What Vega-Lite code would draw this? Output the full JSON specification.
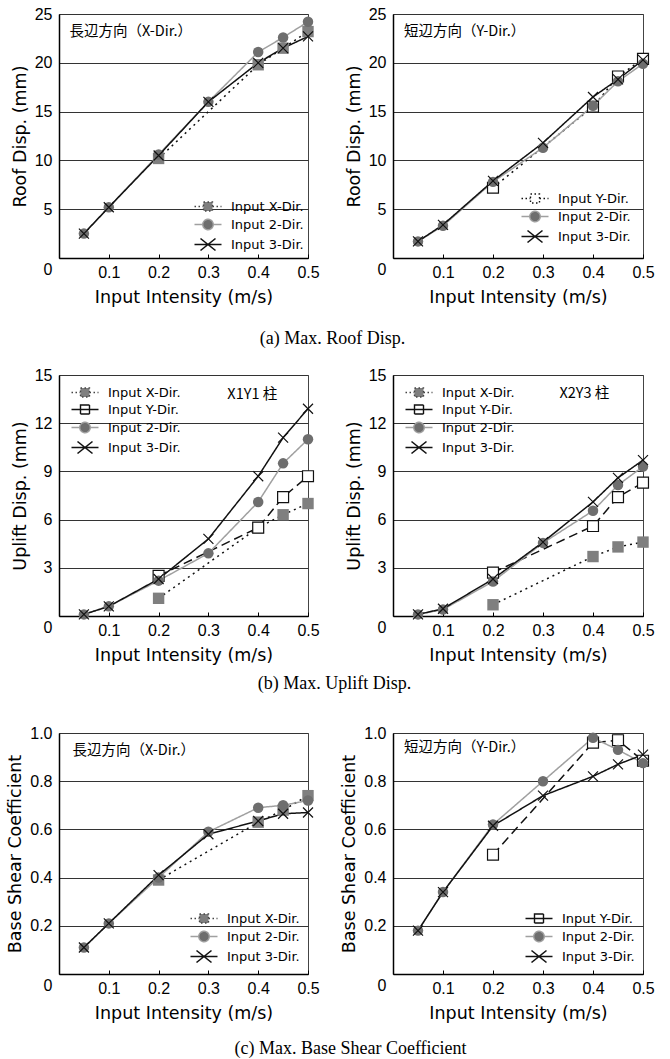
{
  "$schema": "https://vega.github.io/schema/vega-lite/v6.json",
  "padding": {"left": 6, "top": 5, "right": 5, "bottom": 2},
  "columns": 2,
  "spacing": {"row": 117, "column": 85},
  "bounds": "flush",
  "align": "each",
  "datasets": {
    "all": [
      {"panel": "a1", "series": "Input X-Dir.", "intensity": 0.2, "value": 10.2},
      {"panel": "a1", "series": "Input X-Dir.", "intensity": 0.4, "value": 19.8},
      {"panel": "a1", "series": "Input X-Dir.", "intensity": 0.45, "value": 21.5},
      {"panel": "a1", "series": "Input X-Dir.", "intensity": 0.5, "value": 23.2},
      {"panel": "a1", "series": "Input 2-Dir.", "intensity": 0.05, "value": 2.5},
      {"panel": "a1", "series": "Input 2-Dir.", "intensity": 0.1, "value": 5.2},
      {"panel": "a1", "series": "Input 2-Dir.", "intensity": 0.2, "value": 10.6},
      {"panel": "a1", "series": "Input 2-Dir.", "intensity": 0.3, "value": 16.0},
      {"panel": "a1", "series": "Input 2-Dir.", "intensity": 0.4, "value": 21.1},
      {"panel": "a1", "series": "Input 2-Dir.", "intensity": 0.45, "value": 22.6},
      {"panel": "a1", "series": "Input 2-Dir.", "intensity": 0.5, "value": 24.2},
      {"panel": "a1", "series": "Input 3-Dir.", "intensity": 0.05, "value": 2.5},
      {"panel": "a1", "series": "Input 3-Dir.", "intensity": 0.1, "value": 5.2},
      {"panel": "a1", "series": "Input 3-Dir.", "intensity": 0.2, "value": 10.5},
      {"panel": "a1", "series": "Input 3-Dir.", "intensity": 0.3, "value": 16.0},
      {"panel": "a1", "series": "Input 3-Dir.", "intensity": 0.4, "value": 20.0},
      {"panel": "a1", "series": "Input 3-Dir.", "intensity": 0.45, "value": 21.5},
      {"panel": "a1", "series": "Input 3-Dir.", "intensity": 0.5, "value": 22.7},

      {"panel": "a2", "series": "Input Y-Dir.", "intensity": 0.2, "value": 7.2},
      {"panel": "a2", "series": "Input Y-Dir.", "intensity": 0.4, "value": 15.5},
      {"panel": "a2", "series": "Input Y-Dir.", "intensity": 0.45, "value": 18.6},
      {"panel": "a2", "series": "Input Y-Dir.", "intensity": 0.5, "value": 20.4},
      {"panel": "a2", "series": "Input 2-Dir.", "intensity": 0.05, "value": 1.7},
      {"panel": "a2", "series": "Input 2-Dir.", "intensity": 0.1, "value": 3.3},
      {"panel": "a2", "series": "Input 2-Dir.", "intensity": 0.2, "value": 7.8},
      {"panel": "a2", "series": "Input 2-Dir.", "intensity": 0.3, "value": 11.3},
      {"panel": "a2", "series": "Input 2-Dir.", "intensity": 0.4, "value": 15.6},
      {"panel": "a2", "series": "Input 2-Dir.", "intensity": 0.45, "value": 18.1},
      {"panel": "a2", "series": "Input 2-Dir.", "intensity": 0.5, "value": 19.9},
      {"panel": "a2", "series": "Input 3-Dir.", "intensity": 0.05, "value": 1.7},
      {"panel": "a2", "series": "Input 3-Dir.", "intensity": 0.1, "value": 3.4},
      {"panel": "a2", "series": "Input 3-Dir.", "intensity": 0.2, "value": 7.9},
      {"panel": "a2", "series": "Input 3-Dir.", "intensity": 0.3, "value": 11.8},
      {"panel": "a2", "series": "Input 3-Dir.", "intensity": 0.4, "value": 16.5},
      {"panel": "a2", "series": "Input 3-Dir.", "intensity": 0.45, "value": 18.3},
      {"panel": "a2", "series": "Input 3-Dir.", "intensity": 0.5, "value": 20.3},

      {"panel": "b1", "series": "Input X-Dir.", "intensity": 0.2, "value": 1.1},
      {"panel": "b1", "series": "Input X-Dir.", "intensity": 0.4, "value": 5.5},
      {"panel": "b1", "series": "Input X-Dir.", "intensity": 0.45, "value": 6.3},
      {"panel": "b1", "series": "Input X-Dir.", "intensity": 0.5, "value": 7.0},
      {"panel": "b1", "series": "Input Y-Dir.", "intensity": 0.2, "value": 2.5},
      {"panel": "b1", "series": "Input Y-Dir.", "intensity": 0.4, "value": 5.5},
      {"panel": "b1", "series": "Input Y-Dir.", "intensity": 0.45, "value": 7.4},
      {"panel": "b1", "series": "Input Y-Dir.", "intensity": 0.5, "value": 8.7},
      {"panel": "b1", "series": "Input 2-Dir.", "intensity": 0.05, "value": 0.1},
      {"panel": "b1", "series": "Input 2-Dir.", "intensity": 0.1, "value": 0.6},
      {"panel": "b1", "series": "Input 2-Dir.", "intensity": 0.2, "value": 2.2},
      {"panel": "b1", "series": "Input 2-Dir.", "intensity": 0.3, "value": 3.9},
      {"panel": "b1", "series": "Input 2-Dir.", "intensity": 0.4, "value": 7.1},
      {"panel": "b1", "series": "Input 2-Dir.", "intensity": 0.45, "value": 9.5},
      {"panel": "b1", "series": "Input 2-Dir.", "intensity": 0.5, "value": 11.0},
      {"panel": "b1", "series": "Input 3-Dir.", "intensity": 0.05, "value": 0.1},
      {"panel": "b1", "series": "Input 3-Dir.", "intensity": 0.1, "value": 0.6},
      {"panel": "b1", "series": "Input 3-Dir.", "intensity": 0.2, "value": 2.3},
      {"panel": "b1", "series": "Input 3-Dir.", "intensity": 0.3, "value": 4.8},
      {"panel": "b1", "series": "Input 3-Dir.", "intensity": 0.4, "value": 8.7},
      {"panel": "b1", "series": "Input 3-Dir.", "intensity": 0.45, "value": 11.1},
      {"panel": "b1", "series": "Input 3-Dir.", "intensity": 0.5, "value": 12.9},

      {"panel": "b2", "series": "Input X-Dir.", "intensity": 0.2, "value": 0.7},
      {"panel": "b2", "series": "Input X-Dir.", "intensity": 0.4, "value": 3.7},
      {"panel": "b2", "series": "Input X-Dir.", "intensity": 0.45, "value": 4.3},
      {"panel": "b2", "series": "Input X-Dir.", "intensity": 0.5, "value": 4.6},
      {"panel": "b2", "series": "Input Y-Dir.", "intensity": 0.2, "value": 2.7},
      {"panel": "b2", "series": "Input Y-Dir.", "intensity": 0.4, "value": 5.6},
      {"panel": "b2", "series": "Input Y-Dir.", "intensity": 0.45, "value": 7.4},
      {"panel": "b2", "series": "Input Y-Dir.", "intensity": 0.5, "value": 8.3},
      {"panel": "b2", "series": "Input 2-Dir.", "intensity": 0.05, "value": 0.1},
      {"panel": "b2", "series": "Input 2-Dir.", "intensity": 0.1, "value": 0.4},
      {"panel": "b2", "series": "Input 2-Dir.", "intensity": 0.2, "value": 2.15},
      {"panel": "b2", "series": "Input 2-Dir.", "intensity": 0.3, "value": 4.55},
      {"panel": "b2", "series": "Input 2-Dir.", "intensity": 0.4, "value": 6.55},
      {"panel": "b2", "series": "Input 2-Dir.", "intensity": 0.45, "value": 8.15},
      {"panel": "b2", "series": "Input 2-Dir.", "intensity": 0.5, "value": 9.3},
      {"panel": "b2", "series": "Input 3-Dir.", "intensity": 0.05, "value": 0.1},
      {"panel": "b2", "series": "Input 3-Dir.", "intensity": 0.1, "value": 0.45},
      {"panel": "b2", "series": "Input 3-Dir.", "intensity": 0.2, "value": 2.3},
      {"panel": "b2", "series": "Input 3-Dir.", "intensity": 0.3, "value": 4.6},
      {"panel": "b2", "series": "Input 3-Dir.", "intensity": 0.4, "value": 7.1},
      {"panel": "b2", "series": "Input 3-Dir.", "intensity": 0.45, "value": 8.6},
      {"panel": "b2", "series": "Input 3-Dir.", "intensity": 0.5, "value": 9.7},

      {"panel": "c1", "series": "Input X-Dir.", "intensity": 0.2, "value": 0.39},
      {"panel": "c1", "series": "Input X-Dir.", "intensity": 0.4, "value": 0.63},
      {"panel": "c1", "series": "Input X-Dir.", "intensity": 0.45, "value": 0.68},
      {"panel": "c1", "series": "Input X-Dir.", "intensity": 0.5, "value": 0.74},
      {"panel": "c1", "series": "Input 2-Dir.", "intensity": 0.05, "value": 0.11},
      {"panel": "c1", "series": "Input 2-Dir.", "intensity": 0.1, "value": 0.21},
      {"panel": "c1", "series": "Input 2-Dir.", "intensity": 0.2, "value": 0.4},
      {"panel": "c1", "series": "Input 2-Dir.", "intensity": 0.3, "value": 0.59},
      {"panel": "c1", "series": "Input 2-Dir.", "intensity": 0.4, "value": 0.69},
      {"panel": "c1", "series": "Input 2-Dir.", "intensity": 0.45, "value": 0.7},
      {"panel": "c1", "series": "Input 2-Dir.", "intensity": 0.5, "value": 0.72},
      {"panel": "c1", "series": "Input 3-Dir.", "intensity": 0.05, "value": 0.11},
      {"panel": "c1", "series": "Input 3-Dir.", "intensity": 0.1, "value": 0.21},
      {"panel": "c1", "series": "Input 3-Dir.", "intensity": 0.2, "value": 0.41},
      {"panel": "c1", "series": "Input 3-Dir.", "intensity": 0.3, "value": 0.58},
      {"panel": "c1", "series": "Input 3-Dir.", "intensity": 0.4, "value": 0.635},
      {"panel": "c1", "series": "Input 3-Dir.", "intensity": 0.45, "value": 0.665},
      {"panel": "c1", "series": "Input 3-Dir.", "intensity": 0.5, "value": 0.67},

      {"panel": "c2", "series": "Input Y-Dir.", "intensity": 0.2, "value": 0.495},
      {"panel": "c2", "series": "Input Y-Dir.", "intensity": 0.4, "value": 0.96},
      {"panel": "c2", "series": "Input Y-Dir.", "intensity": 0.45, "value": 0.97},
      {"panel": "c2", "series": "Input Y-Dir.", "intensity": 0.5, "value": 0.885},
      {"panel": "c2", "series": "Input 2-Dir.", "intensity": 0.05, "value": 0.18},
      {"panel": "c2", "series": "Input 2-Dir.", "intensity": 0.1, "value": 0.34},
      {"panel": "c2", "series": "Input 2-Dir.", "intensity": 0.2, "value": 0.62},
      {"panel": "c2", "series": "Input 2-Dir.", "intensity": 0.3, "value": 0.8},
      {"panel": "c2", "series": "Input 2-Dir.", "intensity": 0.4, "value": 0.98},
      {"panel": "c2", "series": "Input 2-Dir.", "intensity": 0.45, "value": 0.93},
      {"panel": "c2", "series": "Input 2-Dir.", "intensity": 0.5, "value": 0.875},
      {"panel": "c2", "series": "Input 3-Dir.", "intensity": 0.05, "value": 0.18},
      {"panel": "c2", "series": "Input 3-Dir.", "intensity": 0.1, "value": 0.34},
      {"panel": "c2", "series": "Input 3-Dir.", "intensity": 0.2, "value": 0.615},
      {"panel": "c2", "series": "Input 3-Dir.", "intensity": 0.3, "value": 0.74},
      {"panel": "c2", "series": "Input 3-Dir.", "intensity": 0.4, "value": 0.82},
      {"panel": "c2", "series": "Input 3-Dir.", "intensity": 0.45, "value": 0.87},
      {"panel": "c2", "series": "Input 3-Dir.", "intensity": 0.5, "value": 0.91}
    ]
  },
  "concat": [
    {
      "width": 249, "height": 244,
      "title": {"text": "(a) Max. Roof Disp.", "orient": "bottom", "frame": "group", "anchor": "middle", "dx": 149, "offset": 24},
      "data": {"name": "all"},
      "encoding": {
        "x": {"field": "intensity", "type": "quantitative", "scale": {"domain": [0, 0.5], "nice": false}, "axis": {"title": "Input Intensity (m/s)", "values": [0.1, 0.2, 0.3, 0.4, 0.5], "format": ".1f"}},
        "y": {"field": "value", "type": "quantitative", "scale": {"domain": [0, 25], "nice": false}, "axis": {"title": "Roof Disp. (mm)", "values": [0, 5, 10, 15, 20, 25], "labelOffset": {"condition": {"test": "datum.value === 0", "value": 11}, "value": 0}}}
      },
      "resolve": {"scale": {"color": "independent", "shape": "independent", "fill": "independent", "stroke": "independent", "strokeDash": "independent", "strokeWidth": "independent", "size": "independent"}},
      "layer": [
        {
          "transform": [{"filter": "datum.panel === 'a1'"}],
          "mark": {"type": "line"},
          "encoding": {
            "color": {"field": "series", "type": "nominal", "scale": {"domain": ["Input X-Dir.", "Input Y-Dir.", "Input 2-Dir.", "Input 3-Dir."], "range": ["#111111", "#111111", "#a0a0a0", "#111111"]}, "legend": null},
            "strokeDash": {"field": "series", "type": "nominal", "scale": {"domain": ["Input X-Dir.", "Input Y-Dir.", "Input 2-Dir.", "Input 3-Dir."], "range": [[2, 4], [9, 5], [1, 0], [1, 0]]}, "legend": null},
            "strokeWidth": {"field": "series", "type": "nominal", "scale": {"domain": ["Input X-Dir.", "Input Y-Dir.", "Input 2-Dir.", "Input 3-Dir."], "range": [1.5, 1.5, 2, 1.5]}, "legend": null}
          }
        },
        {
          "transform": [{"filter": "datum.panel === 'a1'"}],
          "mark": {"type": "point", "opacity": 1, "strokeWidth": 1.2},
          "encoding": {
            "shape": {"field": "series", "type": "nominal", "scale": {"domain": ["Input X-Dir.", "Input Y-Dir.", "Input 2-Dir.", "Input 3-Dir."], "range": ["square", "square", "circle", "M-1,-1L1,1M-1,1L1,-1"]}, "legend": null},
            "fill": {"field": "series", "type": "nominal", "scale": {"domain": ["Input X-Dir.", "Input Y-Dir.", "Input 2-Dir.", "Input 3-Dir."], "range": ["#7f7f7f", "#ffffff", "#6e6e6e", "transparent"]}, "legend": null},
            "stroke": {"field": "series", "type": "nominal", "scale": {"domain": ["Input X-Dir.", "Input Y-Dir.", "Input 2-Dir.", "Input 3-Dir."], "range": ["transparent", "#111111", "transparent", "#111111"]}, "legend": null},
            "size": {"field": "series", "type": "nominal", "scale": {"domain": ["Input X-Dir.", "Input Y-Dir.", "Input 2-Dir.", "Input 3-Dir."], "range": [130, 100, 120, 150]}, "legend": null}
          }
        },
        {
          "transform": [{"filter": "false"}],
          "mark": {"type": "point", "opacity": 1, "size": 100},
          "encoding": {
            "shape": {"field": "series", "type": "nominal", "scale": {"domain": ["Input X-Dir.", "Input Y-Dir.", "Input 2-Dir.", "Input 3-Dir."], "range": ["M-1,0H0.8M2.6,0H4.4M0.8,-0.9H2.6V0.9H0.8Z", "M-1,0H4.4M0.8,-0.9H2.6V0.9H0.8Z", "M-1,0H0.65M2.75,0H4.4M2.75,0A1.05,1.05,0,1,1,0.65,0A1.05,1.05,0,1,1,2.75,0Z", "M-1,0H4.4M0.2,-1.2L3.2,1.2M0.2,1.2L3.2,-1.2"]}, "legend": {"title": null, "orient": "bottom-right", "offset": 4, "values": ["Input X-Dir.", "Input 2-Dir.", "Input 3-Dir."]}},
            "fill": {"field": "series", "type": "nominal", "scale": {"domain": ["Input X-Dir.", "Input Y-Dir.", "Input 2-Dir.", "Input 3-Dir."], "range": ["#7f7f7f", "#ffffff", "#6e6e6e", "transparent"]}, "legend": {"title": null, "orient": "bottom-right", "offset": 4, "values": ["Input X-Dir.", "Input 2-Dir.", "Input 3-Dir."]}},
            "stroke": {"field": "series", "type": "nominal", "scale": {"domain": ["Input X-Dir.", "Input Y-Dir.", "Input 2-Dir.", "Input 3-Dir."], "range": ["#444444", "#111111", "#a0a0a0", "#111111"]}, "legend": {"title": null, "orient": "bottom-right", "offset": 4, "values": ["Input X-Dir.", "Input 2-Dir.", "Input 3-Dir."]}},
            "strokeDash": {"field": "series", "type": "nominal", "scale": {"domain": ["Input X-Dir.", "Input Y-Dir.", "Input 2-Dir.", "Input 3-Dir."], "range": [[1.5, 2.5], [1, 0], [1, 0], [1, 0]]}, "legend": {"title": null, "orient": "bottom-right", "offset": 4, "values": ["Input X-Dir.", "Input 2-Dir.", "Input 3-Dir."]}},
            "strokeWidth": {"field": "series", "type": "nominal", "scale": {"domain": ["Input X-Dir.", "Input Y-Dir.", "Input 2-Dir.", "Input 3-Dir."], "range": [1.4, 1.4, 1.8, 1.4]}, "legend": {"title": null, "orient": "bottom-right", "offset": 4, "values": ["Input X-Dir.", "Input 2-Dir.", "Input 3-Dir."]}}
          }
        },
        {
          "transform": [{"filter": "datum.panel === 'a1' && datum.series === 'Input 2-Dir.' && datum.intensity === 0.05"}],
          "mark": {"type": "text", "align": "left", "baseline": "middle", "font": "Noto Sans CJK JP", "fontSize": 14.5, "fill": "#000000"},
          "encoding": {"x": {"datum": 0.021}, "y": {"datum": 23.2}, "text": {"value": "長辺方向（X-Dir.）"}}
        }
      ]
    },
    {
      "width": 250, "height": 244,
      "data": {"name": "all"},
      "encoding": {
        "x": {"field": "intensity", "type": "quantitative", "scale": {"domain": [0, 0.5], "nice": false}, "axis": {"title": "Input Intensity (m/s)", "values": [0.1, 0.2, 0.3, 0.4, 0.5], "format": ".1f"}},
        "y": {"field": "value", "type": "quantitative", "scale": {"domain": [0, 25], "nice": false}, "axis": {"title": "Roof Disp. (mm)", "values": [0, 5, 10, 15, 20, 25], "labelOffset": {"condition": {"test": "datum.value === 0", "value": 11}, "value": 0}}}
      },
      "resolve": {"scale": {"color": "independent", "shape": "independent", "fill": "independent", "stroke": "independent", "strokeDash": "independent", "strokeWidth": "independent", "size": "independent"}},
      "layer": [
        {
          "transform": [{"filter": "datum.panel === 'a2'"}],
          "mark": {"type": "line"},
          "encoding": {
            "color": {"field": "series", "type": "nominal", "scale": {"domain": ["Input X-Dir.", "Input Y-Dir.", "Input 2-Dir.", "Input 3-Dir."], "range": ["#111111", "#111111", "#a0a0a0", "#111111"]}, "legend": null},
            "strokeDash": {"field": "series", "type": "nominal", "scale": {"domain": ["Input X-Dir.", "Input Y-Dir.", "Input 2-Dir.", "Input 3-Dir."], "range": [[2, 4], [2, 4], [1, 0], [1, 0]]}, "legend": null},
            "strokeWidth": {"field": "series", "type": "nominal", "scale": {"domain": ["Input X-Dir.", "Input Y-Dir.", "Input 2-Dir.", "Input 3-Dir."], "range": [1.5, 1.5, 2, 1.5]}, "legend": null}
          }
        },
        {
          "transform": [{"filter": "datum.panel === 'a2'"}],
          "mark": {"type": "point", "opacity": 1, "strokeWidth": 1.2},
          "encoding": {
            "shape": {"field": "series", "type": "nominal", "scale": {"domain": ["Input X-Dir.", "Input Y-Dir.", "Input 2-Dir.", "Input 3-Dir."], "range": ["square", "square", "circle", "M-1,-1L1,1M-1,1L1,-1"]}, "legend": null},
            "fill": {"field": "series", "type": "nominal", "scale": {"domain": ["Input X-Dir.", "Input Y-Dir.", "Input 2-Dir.", "Input 3-Dir."], "range": ["#7f7f7f", "#ffffff", "#6e6e6e", "transparent"]}, "legend": null},
            "stroke": {"field": "series", "type": "nominal", "scale": {"domain": ["Input X-Dir.", "Input Y-Dir.", "Input 2-Dir.", "Input 3-Dir."], "range": ["transparent", "#111111", "transparent", "#111111"]}, "legend": null},
            "size": {"field": "series", "type": "nominal", "scale": {"domain": ["Input X-Dir.", "Input Y-Dir.", "Input 2-Dir.", "Input 3-Dir."], "range": [130, 100, 120, 150]}, "legend": null}
          }
        },
        {
          "transform": [{"filter": "false"}],
          "mark": {"type": "point", "opacity": 1, "size": 100},
          "encoding": {
            "shape": {"field": "series", "type": "nominal", "scale": {"domain": ["Input X-Dir.", "Input Y-Dir.", "Input 2-Dir.", "Input 3-Dir."], "range": ["M-1,0H0.8M2.6,0H4.4M0.8,-0.9H2.6V0.9H0.8Z", "M-1,0H0.8M2.6,0H4.4M0.8,-0.9H2.6V0.9H0.8Z", "M-1,0H0.65M2.75,0H4.4M2.75,0A1.05,1.05,0,1,1,0.65,0A1.05,1.05,0,1,1,2.75,0Z", "M-1,0H4.4M0.2,-1.2L3.2,1.2M0.2,1.2L3.2,-1.2"]}, "legend": {"title": null, "orient": "bottom-right", "offset": 12, "values": ["Input Y-Dir.", "Input 2-Dir.", "Input 3-Dir."]}},
            "fill": {"field": "series", "type": "nominal", "scale": {"domain": ["Input X-Dir.", "Input Y-Dir.", "Input 2-Dir.", "Input 3-Dir."], "range": ["#7f7f7f", "#ffffff", "#6e6e6e", "transparent"]}, "legend": {"title": null, "orient": "bottom-right", "offset": 12, "values": ["Input Y-Dir.", "Input 2-Dir.", "Input 3-Dir."]}},
            "stroke": {"field": "series", "type": "nominal", "scale": {"domain": ["Input X-Dir.", "Input Y-Dir.", "Input 2-Dir.", "Input 3-Dir."], "range": ["#444444", "#111111", "#a0a0a0", "#111111"]}, "legend": {"title": null, "orient": "bottom-right", "offset": 12, "values": ["Input Y-Dir.", "Input 2-Dir.", "Input 3-Dir."]}},
            "strokeDash": {"field": "series", "type": "nominal", "scale": {"domain": ["Input X-Dir.", "Input Y-Dir.", "Input 2-Dir.", "Input 3-Dir."], "range": [[1.5, 2.5], [1.5, 2.5], [1, 0], [1, 0]]}, "legend": {"title": null, "orient": "bottom-right", "offset": 12, "values": ["Input Y-Dir.", "Input 2-Dir.", "Input 3-Dir."]}},
            "strokeWidth": {"field": "series", "type": "nominal", "scale": {"domain": ["Input X-Dir.", "Input Y-Dir.", "Input 2-Dir.", "Input 3-Dir."], "range": [1.4, 1.4, 1.8, 1.4]}, "legend": {"title": null, "orient": "bottom-right", "offset": 12, "values": ["Input Y-Dir.", "Input 2-Dir.", "Input 3-Dir."]}}
          }
        },
        {
          "transform": [{"filter": "datum.panel === 'a2' && datum.series === 'Input 2-Dir.' && datum.intensity === 0.05"}],
          "mark": {"type": "text", "align": "left", "baseline": "middle", "font": "Noto Sans CJK JP", "fontSize": 14.5, "fill": "#000000"},
          "encoding": {"x": {"datum": 0.022}, "y": {"datum": 23.2}, "text": {"value": "短辺方向（Y-Dir.）"}}
        }
      ]
    },
    {
      "width": 249, "height": 241,
      "title": {"text": "(b) Max. Uplift Disp.", "orient": "bottom", "frame": "group", "anchor": "middle", "dx": 151, "offset": 11},
      "data": {"name": "all"},
      "encoding": {
        "x": {"field": "intensity", "type": "quantitative", "scale": {"domain": [0, 0.5], "nice": false}, "axis": {"title": "Input Intensity (m/s)", "values": [0.1, 0.2, 0.3, 0.4, 0.5], "format": ".1f"}},
        "y": {"field": "value", "type": "quantitative", "scale": {"domain": [0, 15], "nice": false}, "axis": {"title": "Uplift Disp. (mm)", "values": [0, 3, 6, 9, 12, 15], "labelOffset": {"condition": {"test": "datum.value === 0", "value": 11}, "value": 0}}}
      },
      "resolve": {"scale": {"color": "independent", "shape": "independent", "fill": "independent", "stroke": "independent", "strokeDash": "independent", "strokeWidth": "independent", "size": "independent"}},
      "layer": [
        {
          "transform": [{"filter": "datum.panel === 'b1'"}],
          "mark": {"type": "line"},
          "encoding": {
            "color": {"field": "series", "type": "nominal", "scale": {"domain": ["Input X-Dir.", "Input Y-Dir.", "Input 2-Dir.", "Input 3-Dir."], "range": ["#111111", "#111111", "#a0a0a0", "#111111"]}, "legend": null},
            "strokeDash": {"field": "series", "type": "nominal", "scale": {"domain": ["Input X-Dir.", "Input Y-Dir.", "Input 2-Dir.", "Input 3-Dir."], "range": [[2, 4], [9, 5], [1, 0], [1, 0]]}, "legend": null},
            "strokeWidth": {"field": "series", "type": "nominal", "scale": {"domain": ["Input X-Dir.", "Input Y-Dir.", "Input 2-Dir.", "Input 3-Dir."], "range": [1.5, 1.5, 2, 1.5]}, "legend": null}
          }
        },
        {
          "transform": [{"filter": "datum.panel === 'b1'"}],
          "mark": {"type": "point", "opacity": 1, "strokeWidth": 1.2},
          "encoding": {
            "shape": {"field": "series", "type": "nominal", "scale": {"domain": ["Input X-Dir.", "Input Y-Dir.", "Input 2-Dir.", "Input 3-Dir."], "range": ["square", "square", "circle", "M-1,-1L1,1M-1,1L1,-1"]}, "legend": null},
            "fill": {"field": "series", "type": "nominal", "scale": {"domain": ["Input X-Dir.", "Input Y-Dir.", "Input 2-Dir.", "Input 3-Dir."], "range": ["#7f7f7f", "#ffffff", "#6e6e6e", "transparent"]}, "legend": null},
            "stroke": {"field": "series", "type": "nominal", "scale": {"domain": ["Input X-Dir.", "Input Y-Dir.", "Input 2-Dir.", "Input 3-Dir."], "range": ["transparent", "#111111", "transparent", "#111111"]}, "legend": null},
            "size": {"field": "series", "type": "nominal", "scale": {"domain": ["Input X-Dir.", "Input Y-Dir.", "Input 2-Dir.", "Input 3-Dir."], "range": [130, 100, 120, 150]}, "legend": null}
          }
        },
        {
          "transform": [{"filter": "false"}],
          "mark": {"type": "point", "opacity": 1, "size": 100},
          "encoding": {
            "shape": {"field": "series", "type": "nominal", "scale": {"domain": ["Input X-Dir.", "Input Y-Dir.", "Input 2-Dir.", "Input 3-Dir."], "range": ["M-1,0H0.8M2.6,0H4.4M0.8,-0.9H2.6V0.9H0.8Z", "M-1,0H4.4M0.8,-0.9H2.6V0.9H0.8Z", "M-1,0H0.65M2.75,0H4.4M2.75,0A1.05,1.05,0,1,1,0.65,0A1.05,1.05,0,1,1,2.75,0Z", "M-1,0H4.4M0.2,-1.2L3.2,1.2M0.2,1.2L3.2,-1.2"]}, "legend": {"title": null, "orient": "top-left", "offset": 11}},
            "fill": {"field": "series", "type": "nominal", "scale": {"domain": ["Input X-Dir.", "Input Y-Dir.", "Input 2-Dir.", "Input 3-Dir."], "range": ["#7f7f7f", "#ffffff", "#6e6e6e", "transparent"]}, "legend": {"title": null, "orient": "top-left", "offset": 11}},
            "stroke": {"field": "series", "type": "nominal", "scale": {"domain": ["Input X-Dir.", "Input Y-Dir.", "Input 2-Dir.", "Input 3-Dir."], "range": ["#444444", "#111111", "#a0a0a0", "#111111"]}, "legend": {"title": null, "orient": "top-left", "offset": 11}},
            "strokeDash": {"field": "series", "type": "nominal", "scale": {"domain": ["Input X-Dir.", "Input Y-Dir.", "Input 2-Dir.", "Input 3-Dir."], "range": [[1.5, 2.5], [1, 0], [1, 0], [1, 0]]}, "legend": {"title": null, "orient": "top-left", "offset": 11}},
            "strokeWidth": {"field": "series", "type": "nominal", "scale": {"domain": ["Input X-Dir.", "Input Y-Dir.", "Input 2-Dir.", "Input 3-Dir."], "range": [1.4, 1.4, 1.8, 1.4]}, "legend": {"title": null, "orient": "top-left", "offset": 11}}
          }
        },
        {
          "transform": [{"filter": "datum.panel === 'b1' && datum.series === 'Input 2-Dir.' && datum.intensity === 0.05"}],
          "mark": {"type": "text", "align": "left", "baseline": "middle", "font": "Noto Sans CJK JP", "fontSize": 14.5, "fill": "#000000"},
          "encoding": {"x": {"datum": 0.338}, "y": {"datum": 13.75}, "text": {"value": "X1Y1 柱"}}
        }
      ]
    },
    {
      "width": 250, "height": 241,
      "data": {"name": "all"},
      "encoding": {
        "x": {"field": "intensity", "type": "quantitative", "scale": {"domain": [0, 0.5], "nice": false}, "axis": {"title": "Input Intensity (m/s)", "values": [0.1, 0.2, 0.3, 0.4, 0.5], "format": ".1f"}},
        "y": {"field": "value", "type": "quantitative", "scale": {"domain": [0, 15], "nice": false}, "axis": {"title": "Uplift Disp. (mm)", "values": [0, 3, 6, 9, 12, 15], "labelOffset": {"condition": {"test": "datum.value === 0", "value": 11}, "value": 0}}}
      },
      "resolve": {"scale": {"color": "independent", "shape": "independent", "fill": "independent", "stroke": "independent", "strokeDash": "independent", "strokeWidth": "independent", "size": "independent"}},
      "layer": [
        {
          "transform": [{"filter": "datum.panel === 'b2'"}],
          "mark": {"type": "line"},
          "encoding": {
            "color": {"field": "series", "type": "nominal", "scale": {"domain": ["Input X-Dir.", "Input Y-Dir.", "Input 2-Dir.", "Input 3-Dir."], "range": ["#111111", "#111111", "#a0a0a0", "#111111"]}, "legend": null},
            "strokeDash": {"field": "series", "type": "nominal", "scale": {"domain": ["Input X-Dir.", "Input Y-Dir.", "Input 2-Dir.", "Input 3-Dir."], "range": [[2, 4], [9, 5], [1, 0], [1, 0]]}, "legend": null},
            "strokeWidth": {"field": "series", "type": "nominal", "scale": {"domain": ["Input X-Dir.", "Input Y-Dir.", "Input 2-Dir.", "Input 3-Dir."], "range": [1.5, 1.5, 2, 1.5]}, "legend": null}
          }
        },
        {
          "transform": [{"filter": "datum.panel === 'b2'"}],
          "mark": {"type": "point", "opacity": 1, "strokeWidth": 1.2},
          "encoding": {
            "shape": {"field": "series", "type": "nominal", "scale": {"domain": ["Input X-Dir.", "Input Y-Dir.", "Input 2-Dir.", "Input 3-Dir."], "range": ["square", "square", "circle", "M-1,-1L1,1M-1,1L1,-1"]}, "legend": null},
            "fill": {"field": "series", "type": "nominal", "scale": {"domain": ["Input X-Dir.", "Input Y-Dir.", "Input 2-Dir.", "Input 3-Dir."], "range": ["#7f7f7f", "#ffffff", "#6e6e6e", "transparent"]}, "legend": null},
            "stroke": {"field": "series", "type": "nominal", "scale": {"domain": ["Input X-Dir.", "Input Y-Dir.", "Input 2-Dir.", "Input 3-Dir."], "range": ["transparent", "#111111", "transparent", "#111111"]}, "legend": null},
            "size": {"field": "series", "type": "nominal", "scale": {"domain": ["Input X-Dir.", "Input Y-Dir.", "Input 2-Dir.", "Input 3-Dir."], "range": [130, 100, 120, 150]}, "legend": null}
          }
        },
        {
          "transform": [{"filter": "false"}],
          "mark": {"type": "point", "opacity": 1, "size": 100},
          "encoding": {
            "shape": {"field": "series", "type": "nominal", "scale": {"domain": ["Input X-Dir.", "Input Y-Dir.", "Input 2-Dir.", "Input 3-Dir."], "range": ["M-1,0H0.8M2.6,0H4.4M0.8,-0.9H2.6V0.9H0.8Z", "M-1,0H4.4M0.8,-0.9H2.6V0.9H0.8Z", "M-1,0H0.65M2.75,0H4.4M2.75,0A1.05,1.05,0,1,1,0.65,0A1.05,1.05,0,1,1,2.75,0Z", "M-1,0H4.4M0.2,-1.2L3.2,1.2M0.2,1.2L3.2,-1.2"]}, "legend": {"title": null, "orient": "top-left", "offset": 11}},
            "fill": {"field": "series", "type": "nominal", "scale": {"domain": ["Input X-Dir.", "Input Y-Dir.", "Input 2-Dir.", "Input 3-Dir."], "range": ["#7f7f7f", "#ffffff", "#6e6e6e", "transparent"]}, "legend": {"title": null, "orient": "top-left", "offset": 11}},
            "stroke": {"field": "series", "type": "nominal", "scale": {"domain": ["Input X-Dir.", "Input Y-Dir.", "Input 2-Dir.", "Input 3-Dir."], "range": ["#444444", "#111111", "#a0a0a0", "#111111"]}, "legend": {"title": null, "orient": "top-left", "offset": 11}},
            "strokeDash": {"field": "series", "type": "nominal", "scale": {"domain": ["Input X-Dir.", "Input Y-Dir.", "Input 2-Dir.", "Input 3-Dir."], "range": [[1.5, 2.5], [1, 0], [1, 0], [1, 0]]}, "legend": {"title": null, "orient": "top-left", "offset": 11}},
            "strokeWidth": {"field": "series", "type": "nominal", "scale": {"domain": ["Input X-Dir.", "Input Y-Dir.", "Input 2-Dir.", "Input 3-Dir."], "range": [1.4, 1.4, 1.8, 1.4]}, "legend": {"title": null, "orient": "top-left", "offset": 11}}
          }
        },
        {
          "transform": [{"filter": "datum.panel === 'b2' && datum.series === 'Input 2-Dir.' && datum.intensity === 0.05"}],
          "mark": {"type": "text", "align": "left", "baseline": "middle", "font": "Noto Sans CJK JP", "fontSize": 14.5, "fill": "#000000"},
          "encoding": {"x": {"datum": 0.333}, "y": {"datum": 13.8}, "text": {"value": "X2Y3 柱"}}
        }
      ]
    },
    {
      "width": 249, "height": 241,
      "title": {"text": "(c) Max. Base Shear Coefficient", "orient": "bottom", "frame": "group", "anchor": "middle", "dx": 167, "offset": 18},
      "data": {"name": "all"},
      "encoding": {
        "x": {"field": "intensity", "type": "quantitative", "scale": {"domain": [0, 0.5], "nice": false}, "axis": {"title": "Input Intensity (m/s)", "values": [0.1, 0.2, 0.3, 0.4, 0.5], "format": ".1f"}},
        "y": {"field": "value", "type": "quantitative", "scale": {"domain": [0, 1], "nice": false}, "axis": {"title": "Base Shear Coefficient", "values": [0, 0.2, 0.4, 0.6, 0.8, 1], "labelExpr": "datum.value === 0 ? '0' : format(datum.value, '.1f')", "labelOffset": {"condition": {"test": "datum.value === 0", "value": 11}, "value": 0}}}
      },
      "resolve": {"scale": {"color": "independent", "shape": "independent", "fill": "independent", "stroke": "independent", "strokeDash": "independent", "strokeWidth": "independent", "size": "independent"}},
      "layer": [
        {
          "transform": [{"filter": "datum.panel === 'c1'"}],
          "mark": {"type": "line"},
          "encoding": {
            "color": {"field": "series", "type": "nominal", "scale": {"domain": ["Input X-Dir.", "Input Y-Dir.", "Input 2-Dir.", "Input 3-Dir."], "range": ["#111111", "#111111", "#a0a0a0", "#111111"]}, "legend": null},
            "strokeDash": {"field": "series", "type": "nominal", "scale": {"domain": ["Input X-Dir.", "Input Y-Dir.", "Input 2-Dir.", "Input 3-Dir."], "range": [[2, 4], [9, 5], [1, 0], [1, 0]]}, "legend": null},
            "strokeWidth": {"field": "series", "type": "nominal", "scale": {"domain": ["Input X-Dir.", "Input Y-Dir.", "Input 2-Dir.", "Input 3-Dir."], "range": [1.5, 1.5, 2, 1.5]}, "legend": null}
          }
        },
        {
          "transform": [{"filter": "datum.panel === 'c1'"}],
          "mark": {"type": "point", "opacity": 1, "strokeWidth": 1.2},
          "encoding": {
            "shape": {"field": "series", "type": "nominal", "scale": {"domain": ["Input X-Dir.", "Input Y-Dir.", "Input 2-Dir.", "Input 3-Dir."], "range": ["square", "square", "circle", "M-1,-1L1,1M-1,1L1,-1"]}, "legend": null},
            "fill": {"field": "series", "type": "nominal", "scale": {"domain": ["Input X-Dir.", "Input Y-Dir.", "Input 2-Dir.", "Input 3-Dir."], "range": ["#7f7f7f", "#ffffff", "#6e6e6e", "transparent"]}, "legend": null},
            "stroke": {"field": "series", "type": "nominal", "scale": {"domain": ["Input X-Dir.", "Input Y-Dir.", "Input 2-Dir.", "Input 3-Dir."], "range": ["transparent", "#111111", "transparent", "#111111"]}, "legend": null},
            "size": {"field": "series", "type": "nominal", "scale": {"domain": ["Input X-Dir.", "Input Y-Dir.", "Input 2-Dir.", "Input 3-Dir."], "range": [130, 100, 120, 150]}, "legend": null}
          }
        },
        {
          "transform": [{"filter": "false"}],
          "mark": {"type": "point", "opacity": 1, "size": 100},
          "encoding": {
            "shape": {"field": "series", "type": "nominal", "scale": {"domain": ["Input X-Dir.", "Input Y-Dir.", "Input 2-Dir.", "Input 3-Dir."], "range": ["M-1,0H0.8M2.6,0H4.4M0.8,-0.9H2.6V0.9H0.8Z", "M-1,0H4.4M0.8,-0.9H2.6V0.9H0.8Z", "M-1,0H0.65M2.75,0H4.4M2.75,0A1.05,1.05,0,1,1,0.65,0A1.05,1.05,0,1,1,2.75,0Z", "M-1,0H4.4M0.2,-1.2L3.2,1.2M0.2,1.2L3.2,-1.2"]}, "legend": {"title": null, "orient": "bottom-right", "offset": 8, "values": ["Input X-Dir.", "Input 2-Dir.", "Input 3-Dir."]}},
            "fill": {"field": "series", "type": "nominal", "scale": {"domain": ["Input X-Dir.", "Input Y-Dir.", "Input 2-Dir.", "Input 3-Dir."], "range": ["#7f7f7f", "#ffffff", "#6e6e6e", "transparent"]}, "legend": {"title": null, "orient": "bottom-right", "offset": 8, "values": ["Input X-Dir.", "Input 2-Dir.", "Input 3-Dir."]}},
            "stroke": {"field": "series", "type": "nominal", "scale": {"domain": ["Input X-Dir.", "Input Y-Dir.", "Input 2-Dir.", "Input 3-Dir."], "range": ["#444444", "#111111", "#a0a0a0", "#111111"]}, "legend": {"title": null, "orient": "bottom-right", "offset": 8, "values": ["Input X-Dir.", "Input 2-Dir.", "Input 3-Dir."]}},
            "strokeDash": {"field": "series", "type": "nominal", "scale": {"domain": ["Input X-Dir.", "Input Y-Dir.", "Input 2-Dir.", "Input 3-Dir."], "range": [[1.5, 2.5], [1, 0], [1, 0], [1, 0]]}, "legend": {"title": null, "orient": "bottom-right", "offset": 8, "values": ["Input X-Dir.", "Input 2-Dir.", "Input 3-Dir."]}},
            "strokeWidth": {"field": "series", "type": "nominal", "scale": {"domain": ["Input X-Dir.", "Input Y-Dir.", "Input 2-Dir.", "Input 3-Dir."], "range": [1.4, 1.4, 1.8, 1.4]}, "legend": {"title": null, "orient": "bottom-right", "offset": 8, "values": ["Input X-Dir.", "Input 2-Dir.", "Input 3-Dir."]}}
          }
        },
        {
          "transform": [{"filter": "datum.panel === 'c1' && datum.series === 'Input 2-Dir.' && datum.intensity === 0.05"}],
          "mark": {"type": "text", "align": "left", "baseline": "middle", "font": "Noto Sans CJK JP", "fontSize": 14.5, "fill": "#000000"},
          "encoding": {"x": {"datum": 0.027}, "y": {"datum": 0.924}, "text": {"value": "長辺方向（X-Dir.）"}}
        }
      ]
    },
    {
      "width": 250, "height": 241,
      "data": {"name": "all"},
      "encoding": {
        "x": {"field": "intensity", "type": "quantitative", "scale": {"domain": [0, 0.5], "nice": false}, "axis": {"title": "Input Intensity (m/s)", "values": [0.1, 0.2, 0.3, 0.4, 0.5], "format": ".1f"}},
        "y": {"field": "value", "type": "quantitative", "scale": {"domain": [0, 1], "nice": false}, "axis": {"title": "Base Shear Coefficient", "values": [0, 0.2, 0.4, 0.6, 0.8, 1], "labelExpr": "datum.value === 0 ? '0' : format(datum.value, '.1f')", "labelOffset": {"condition": {"test": "datum.value === 0", "value": 11}, "value": 0}}}
      },
      "resolve": {"scale": {"color": "independent", "shape": "independent", "fill": "independent", "stroke": "independent", "strokeDash": "independent", "strokeWidth": "independent", "size": "independent"}},
      "layer": [
        {
          "transform": [{"filter": "datum.panel === 'c2'"}],
          "mark": {"type": "line"},
          "encoding": {
            "color": {"field": "series", "type": "nominal", "scale": {"domain": ["Input X-Dir.", "Input Y-Dir.", "Input 2-Dir.", "Input 3-Dir."], "range": ["#111111", "#111111", "#a0a0a0", "#111111"]}, "legend": null},
            "strokeDash": {"field": "series", "type": "nominal", "scale": {"domain": ["Input X-Dir.", "Input Y-Dir.", "Input 2-Dir.", "Input 3-Dir."], "range": [[2, 4], [9, 5], [1, 0], [1, 0]]}, "legend": null},
            "strokeWidth": {"field": "series", "type": "nominal", "scale": {"domain": ["Input X-Dir.", "Input Y-Dir.", "Input 2-Dir.", "Input 3-Dir."], "range": [1.5, 1.5, 2, 1.5]}, "legend": null}
          }
        },
        {
          "transform": [{"filter": "datum.panel === 'c2'"}],
          "mark": {"type": "point", "opacity": 1, "strokeWidth": 1.2},
          "encoding": {
            "shape": {"field": "series", "type": "nominal", "scale": {"domain": ["Input X-Dir.", "Input Y-Dir.", "Input 2-Dir.", "Input 3-Dir."], "range": ["square", "square", "circle", "M-1,-1L1,1M-1,1L1,-1"]}, "legend": null},
            "fill": {"field": "series", "type": "nominal", "scale": {"domain": ["Input X-Dir.", "Input Y-Dir.", "Input 2-Dir.", "Input 3-Dir."], "range": ["#7f7f7f", "#ffffff", "#6e6e6e", "transparent"]}, "legend": null},
            "stroke": {"field": "series", "type": "nominal", "scale": {"domain": ["Input X-Dir.", "Input Y-Dir.", "Input 2-Dir.", "Input 3-Dir."], "range": ["transparent", "#111111", "transparent", "#111111"]}, "legend": null},
            "size": {"field": "series", "type": "nominal", "scale": {"domain": ["Input X-Dir.", "Input Y-Dir.", "Input 2-Dir.", "Input 3-Dir."], "range": [130, 100, 120, 150]}, "legend": null}
          }
        },
        {
          "transform": [{"filter": "false"}],
          "mark": {"type": "point", "opacity": 1, "size": 100},
          "encoding": {
            "shape": {"field": "series", "type": "nominal", "scale": {"domain": ["Input X-Dir.", "Input Y-Dir.", "Input 2-Dir.", "Input 3-Dir."], "range": ["M-1,0H0.8M2.6,0H4.4M0.8,-0.9H2.6V0.9H0.8Z", "M-1,0H4.4M0.8,-0.9H2.6V0.9H0.8Z", "M-1,0H0.65M2.75,0H4.4M2.75,0A1.05,1.05,0,1,1,0.65,0A1.05,1.05,0,1,1,2.75,0Z", "M-1,0H4.4M0.2,-1.2L3.2,1.2M0.2,1.2L3.2,-1.2"]}, "legend": {"title": null, "orient": "bottom-right", "offset": 8, "values": ["Input Y-Dir.", "Input 2-Dir.", "Input 3-Dir."]}},
            "fill": {"field": "series", "type": "nominal", "scale": {"domain": ["Input X-Dir.", "Input Y-Dir.", "Input 2-Dir.", "Input 3-Dir."], "range": ["#7f7f7f", "#ffffff", "#6e6e6e", "transparent"]}, "legend": {"title": null, "orient": "bottom-right", "offset": 8, "values": ["Input Y-Dir.", "Input 2-Dir.", "Input 3-Dir."]}},
            "stroke": {"field": "series", "type": "nominal", "scale": {"domain": ["Input X-Dir.", "Input Y-Dir.", "Input 2-Dir.", "Input 3-Dir."], "range": ["#444444", "#111111", "#a0a0a0", "#111111"]}, "legend": {"title": null, "orient": "bottom-right", "offset": 8, "values": ["Input Y-Dir.", "Input 2-Dir.", "Input 3-Dir."]}},
            "strokeDash": {"field": "series", "type": "nominal", "scale": {"domain": ["Input X-Dir.", "Input Y-Dir.", "Input 2-Dir.", "Input 3-Dir."], "range": [[1.5, 2.5], [1, 0], [1, 0], [1, 0]]}, "legend": {"title": null, "orient": "bottom-right", "offset": 8, "values": ["Input Y-Dir.", "Input 2-Dir.", "Input 3-Dir."]}},
            "strokeWidth": {"field": "series", "type": "nominal", "scale": {"domain": ["Input X-Dir.", "Input Y-Dir.", "Input 2-Dir.", "Input 3-Dir."], "range": [1.4, 1.4, 1.8, 1.4]}, "legend": {"title": null, "orient": "bottom-right", "offset": 8, "values": ["Input Y-Dir.", "Input 2-Dir.", "Input 3-Dir."]}}
          }
        },
        {
          "transform": [{"filter": "datum.panel === 'c2' && datum.series === 'Input 2-Dir.' && datum.intensity === 0.05"}],
          "mark": {"type": "text", "align": "left", "baseline": "middle", "font": "Noto Sans CJK JP", "fontSize": 14.5, "fill": "#000000"},
          "encoding": {"x": {"datum": 0.022}, "y": {"datum": 0.938}, "text": {"value": "短辺方向（Y-Dir.）"}}
        }
      ]
    }
  ],
  "config": {
    "view": {"stroke": "#444444", "strokeWidth": 1},
    "title": {"font": "Liberation Serif", "fontSize": 18, "fontWeight": "normal", "color": "#000000"},
    "axis": {"domainColor": "#000000", "domainWidth": 1.5, "labelFont": "Liberation Sans", "labelFontSize": 16, "labelColor": "#000000", "titleFont": "DejaVu Sans", "titleFontSize": 17.5, "titleFontWeight": "normal", "titleColor": "#000000", "gridColor": "#333333", "gridWidth": 1, "gridOpacity": 1},
    "axisX": {"grid": false, "tickSize": -4, "tickColor": "#000000", "tickWidth": 1, "labelPadding": 10, "titlePadding": 8, "labelFlush": false},
    "axisY": {"grid": true, "ticks": false, "labelPadding": 7, "titlePadding": 5},
    "legend": {"labelFont": "DejaVu Sans", "labelFontSize": 13, "labelColor": "#000000", "symbolSize": 100, "labelOffset": 25, "rowPadding": 2, "padding": 0}
  }
}
